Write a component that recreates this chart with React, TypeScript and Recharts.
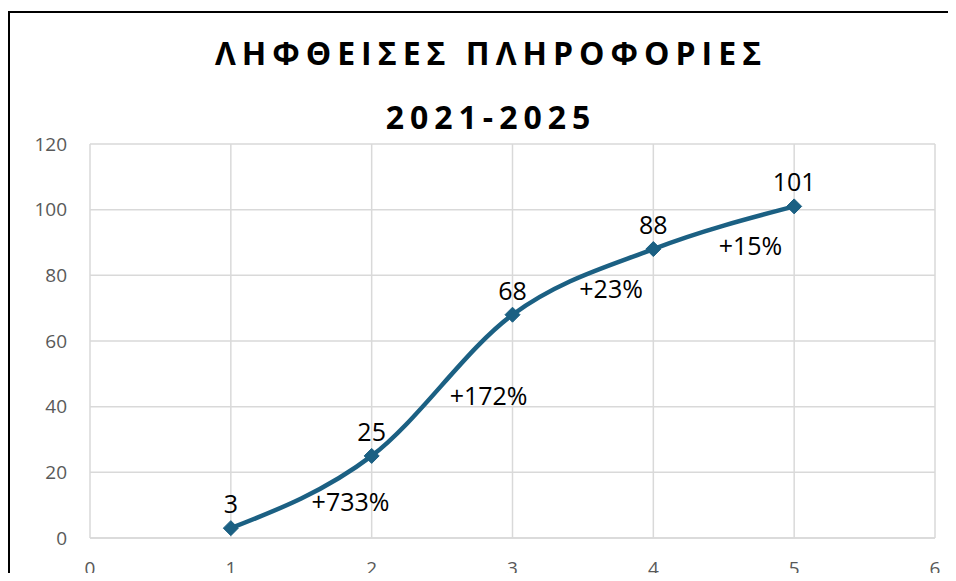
import {
  CartesianGrid,
  ComposedChart,
  LabelList,
  Line,
  Scatter,
  XAxis,
  YAxis,
} from "recharts";

// received information per year index
const years = [1, 2, 3, 4, 5];
const counts = [3, 25, 68, 88, 101];

// growth annotations between points
const growthX = [1.85, 2.83, 3.7, 4.69];
const growthY = [11, 43.3, 75.8, 88.9];
const growthLabels = ["+733%", "+172%", "+23%", "+15%"];

const xTicks = [0, 1, 2, 3, 4, 5, 6];
const yTicks = [0, 20, 40, 60, 80, 100, 120];

const titleLines = ["ΛΗΦΘΕΙΣΕΣ ΠΛΗΡΟΦΟΡΙΕΣ", "2021-2025"];

const lineColor = "#1b6083";
const font = "'Open Sans', sans-serif";

const mainData = years.map((x, i) => ({ x, y: counts[i] }));
const growthData = growthX.map((x, i) => ({
  x,
  y: growthY[i],
  label: growthLabels[i],
}));

function Diamond(props: any) {
  const { cx, cy } = props;
  if (cx == null || cy == null) return null;
  const r = 7.5;
  return (
    <path
      d={`M${cx},${cy - r}L${cx + r},${cy}L${cx},${cy + r}L${cx - r},${cy}Z`}
      fill={lineColor}
      stroke={lineColor}
    />
  );
}

export default function App() {
  return (
    <div
      style={{
        position: "relative",
        top: 3,
        width: 940,
        height: 565,
        borderLeft: "2px solid #000",
        borderTop: "2px solid #000",
        boxSizing: "border-box",
      }}
    >
      <style>{`html, body { overflow: hidden; }`}</style>
      <div
        style={{
          position: "absolute",
          left: 20,
          width: 916,
          top: 8,
          paddingLeft: 6,
          boxSizing: "border-box",
          textAlign: "center",
          fontFamily: font,
          fontWeight: 700,
          fontSize: 32,
          letterSpacing: 6,
          lineHeight: "64px",
          color: "#000",
          pointerEvents: "none",
        }}
      >
        {titleLines.map((t) => (
          <div key={t}>{t}</div>
        ))}
      </div>
      <ComposedChart
        width={938}
        height={568}
        margin={{ top: 131, right: 13, left: 0, bottom: 0 }}
        style={{ fontFamily: font }}
      >
        <CartesianGrid stroke="#d9d9d9" strokeWidth={1.5} />
        <XAxis
          dataKey="x"
          type="number"
          domain={[0, 6]}
          ticks={xTicks}
          height={43}
          tickSize={0}
          tickMargin={24}
          axisLine={{ stroke: "#d9d9d9", strokeWidth: 1.5 }}
          tick={{ fill: "#595959", fontSize: 19 }}
        />
        <YAxis
          type="number"
          domain={[0, 120]}
          ticks={yTicks}
          width={80}
          tickSize={0}
          tickMargin={23}
          axisLine={false}
          tick={{ fill: "#595959", fontSize: 19 }}
        />
        <Line
          data={mainData}
          dataKey="y"
          type="monotone"
          stroke={lineColor}
          strokeWidth={4.5}
          dot={<Diamond />}
          activeDot={false}
          isAnimationActive={false}
        >
          <LabelList
            dataKey="y"
            position="top"
            offset={15}
            fill="#000"
            fontSize={25}
          />
        </Line>
        <Scatter
          data={growthData}
          dataKey="y"
          shape={() => <g />}
          isAnimationActive={false}
        >
          <LabelList
            dataKey="label"
            position="center"
            fill="#000"
            fontSize={25}
          />
        </Scatter>
      </ComposedChart>
    </div>
  );
}
